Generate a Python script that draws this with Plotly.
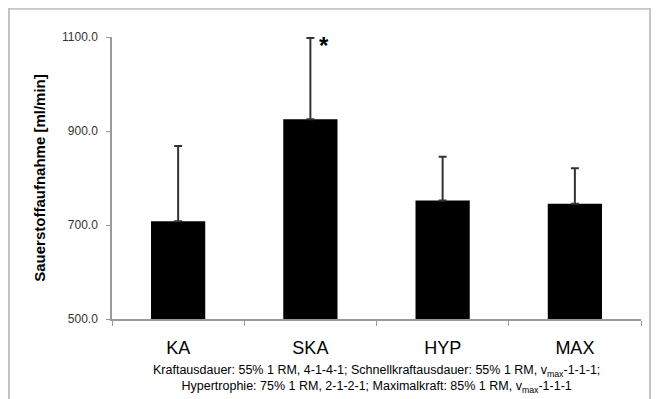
import plotly.graph_objects as go

categories = ["KA", "SKA", "HYP", "MAX"]
means = [708, 925, 752, 745]
sd_upper = [160, 173, 93, 76]
y_ticks = [500, 700, 900, 1100]
y_tick_labels = ["500.0", "700.0", "900.0", "1100.0"]
y_title = "Sauerstoffaufnahme [ml/min]"
note = ("Kraftausdauer: 55% 1 RM, 4-1-4-1; Schnellkraftausdauer: 55% 1 RM, v<sub>max</sub>-1-1-1;<br>"
        "Hypertrophie: 75% 1 RM, 2-1-2-1; Maximalkraft: 85% 1 RM, v<sub>max</sub>-1-1-1")
star_category = "SKA"

fig = go.Figure()
fig.add_trace(go.Bar(
    x=categories, y=means,
    marker=dict(color="#000000", line=dict(width=0)),
    width=0.41,
    error_y=dict(type="data", symmetric=False, array=sd_upper,
                 arrayminus=[0] * len(sd_upper),
                 color="#333333", thickness=2, width=4),
    showlegend=False,
))

fig.update_layout(
    width=653, height=391,
    margin=dict(l=104, r=20, t=29, b=80, autoexpand=False),
    paper_bgcolor="white", plot_bgcolor="white",
    font=dict(family="Liberation Sans, Arial, sans-serif", color="#000"),
)
fig.update_yaxes(
    range=[500, 1100], tickvals=y_ticks, ticktext=y_tick_labels,
    showgrid=False, zeroline=False, automargin=False,
    showline=True, linecolor="#999999", linewidth=1.5,
    ticks="outside", ticklen=4, tickcolor="#999999",
    tickfont=dict(size=12, color="#333333"),
    ticklabelstandoff=6,
    title=dict(text="<b>" + y_title + "</b>", font=dict(size=15, color="#000"), standoff=13),
)
fig.update_xaxes(
    showgrid=False, showline=True, linecolor="#999999", linewidth=1.5,
    automargin=False,
    ticks="outside", ticklen=5, tickcolor="#999999", tickson="boundaries",
    tickfont=dict(size=18, color="#000"),
    ticklabelstandoff=12,
)
fig.add_annotation(
    x=star_category, y=means[1] + sd_upper[1], xref="x", yref="y",
    text="<b>*</b>", showarrow=False, xshift=14, yshift=-8,
    font=dict(size=24, color="#000"), yanchor="middle",
)
fig.add_annotation(
    x=0.5, y=-0.15, xref="paper", yref="paper", text=note,
    showarrow=False, yanchor="top", align="center",
    font=dict(size=12.5, color="#000"),
)
fig.add_shape(
    type="rect", xref="paper", yref="paper",
    x0=-0.1947, x1=1.017, y0=-0.30, y1=1.100,
    line=dict(color="#c4c4c4", width=2),
)

fig.write_html("out.html")
